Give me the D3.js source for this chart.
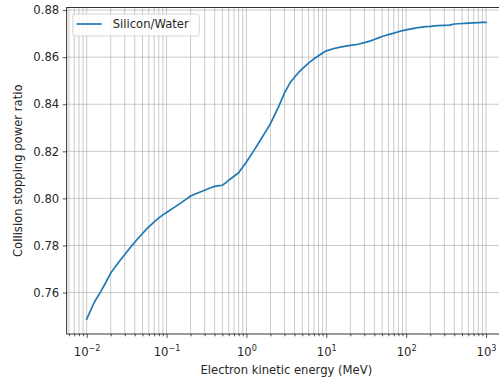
<!DOCTYPE html>
<html>
<head>
<meta charset="utf-8">
<script src="https://cdn.jsdelivr.net/npm/d3@7"></script>
<style>
  body { margin: 0; background: #fff; }
  text { font-family: "DejaVu Sans", sans-serif; }
</style>
</head>
<body>
<div class="canvas"></div>
<script>
// podaci (ocitani sa slike)
const energies = [0.01, 0.0125, 0.015, 0.0175, 0.02, 0.025, 0.03, 0.035, 0.04, 0.045,
	0.05, 0.055, 0.06, 0.07, 0.08, 0.09, 0.1, 0.125, 0.15, 0.175,
	0.2, 0.25, 0.3, 0.35, 0.4, 0.45, 0.5, 0.55, 0.6, 0.7,
	0.8, 0.9, 1, 1.25, 1.5, 1.75, 2, 2.5, 3, 3.5,
	4, 4.5, 5, 5.5, 6, 7, 8, 9, 10, 12.5,
	15, 17.5, 20, 25, 30, 35, 40, 45, 50, 55,
	60, 70, 80, 90, 100, 125, 150, 175, 200, 250,
	300, 350, 400, 450, 500, 550, 600, 700, 800, 900, 1000];
const ratios = [0.7487, 0.7560, 0.7604, 0.7645, 0.7683, 0.7728, 0.7762, 0.7790, 0.7814, 0.7834,
	0.7851, 0.7866, 0.7879, 0.7900, 0.7917, 0.7930, 0.7940, 0.7962, 0.7980, 0.7996,
	0.8010, 0.8024, 0.8035, 0.8044, 0.8051, 0.8054, 0.8056, 0.8066, 0.8077, 0.8094,
	0.8109, 0.8133, 0.8155, 0.8205, 0.8248, 0.8285, 0.8318, 0.8386, 0.8448, 0.8490,
	0.8515, 0.8535, 0.8550, 0.8563, 0.8575, 0.8593, 0.8606, 0.8618, 0.8627, 0.8637,
	0.8643, 0.8647, 0.8650, 0.8655, 0.8662, 0.8668, 0.8675, 0.8682, 0.8688, 0.8692,
	0.8696, 0.8702, 0.8708, 0.8713, 0.8716, 0.8722, 0.8727, 0.8730, 0.8731, 0.8734,
	0.8735, 0.8736, 0.8741, 0.8742, 0.8743, 0.8744, 0.8745, 0.8746, 0.8747, 0.8748, 0.8748];
const seriesName = 'Silicon/Water';
const yTicks = [0.76, 0.78, 0.80, 0.82, 0.84, 0.86, 0.88];
const xMajor = [1e-2, 1e-1, 1e0, 1e1, 1e2, 1e3];
const xExp = ['\u22122', '\u22121', '0', '1', '2', '3'];

const data = energies.map((e, i) => ({ e: e, r: ratios[i] }));

// svg
const svg = d3
	.select('.canvas')
	.append('svg')
	.attr('width', 499)
	.attr('height', 381);

const margin = { top: 7.5, left: 66.7, right: 506, bottom: 334 };
const fontSize = 11.6;

// skale
const logMin = Math.log10(d3.min(energies));
const logMax = Math.log10(d3.max(energies));
const logPad = (logMax - logMin) * 0.05;
const x = d3
	.scaleLog()
	.domain([Math.pow(10, logMin - logPad), Math.pow(10, logMax + logPad)])
	.range([margin.left, margin.right]);

const yExt = d3.extent(ratios);
const yPad = (yExt[1] - yExt[0]) * 0.05;
const y = d3
	.scaleLinear()
	.domain([yExt[0] - yPad, yExt[1] + yPad])
	.range([margin.bottom, margin.top]);

// minor tickovi
const xMinor = [];
for (let k = -3; k <= 3; k++) {
	for (let m = 2; m <= 9; m++) {
		const v = m * Math.pow(10, k);
		if (v >= x.domain()[0] && v <= x.domain()[1]) xMinor.push(v);
	}
}

// grid
const grid = svg.append('g').attr('stroke', '#b0b0b0').attr('stroke-width', 0.67);
grid.selectAll('.gx')
	.data(xMajor.concat(xMinor))
	.enter()
	.append('line')
	.attr('x1', d => x(d)).attr('x2', d => x(d))
	.attr('y1', margin.top).attr('y2', margin.bottom);
grid.selectAll('.gy')
	.data(yTicks)
	.enter()
	.append('line')
	.attr('x1', margin.left).attr('x2', margin.right)
	.attr('y1', d => y(d)).attr('y2', d => y(d));

// linija
svg.append('clipPath').attr('id', 'clip')
	.append('rect')
	.attr('x', margin.left).attr('y', margin.top)
	.attr('width', margin.right - margin.left)
	.attr('height', margin.bottom - margin.top);

const line = d3.line().x(d => x(d.e)).y(d => y(d.r));
svg.append('path')
	.datum(data)
	.attr('clip-path', 'url(#clip)')
	.attr('d', line)
	.attr('fill', 'none')
	.attr('stroke', '#1f77b4')
	.attr('stroke-width', 1.7)
	.attr('stroke-linejoin', 'round')
	.attr('stroke-linecap', 'square');

// osi
const xMinorAxis = d3.axisBottom(x).tickValues(xMinor).tickSize(2.3).tickFormat('');
const xAxis = d3.axisBottom(x).tickValues(xMajor).tickSize(4).tickFormat('');
const yAxis = d3.axisLeft(y).tickValues(yTicks).tickSize(4).tickPadding(3.5)
	.tickFormat(d3.format('.2f'));

const styleAxis = g => {
	g.select('.domain').remove();
	g.selectAll('line').attr('stroke', '#000').attr('stroke-width', 0.67);
	g.selectAll('text').attr('font-size', fontSize).attr('fill', '#262626')
		.attr('font-family', '"DejaVu Sans", sans-serif');
};

svg.append('g').attr('transform', `translate(0, ${margin.bottom})`).call(xMinorAxis).call(styleAxis);
const xAxisGroup = svg.append('g').attr('transform', `translate(0, ${margin.bottom})`).call(xAxis).call(styleAxis);
svg.append('g').attr('transform', `translate(${margin.left}, 0)`).call(yAxis).call(styleAxis);

// oznake 10^n
const lbl = xAxisGroup.selectAll('.tick')
	.append('text')
	.attr('y', 22)
	.attr('text-anchor', 'middle')
	.attr('font-size', fontSize)
	.attr('fill', '#262626');
lbl.append('tspan').text('10');
lbl.append('tspan')
	.attr('dy', -5)
	.attr('font-size', fontSize * 0.7)
	.text((d, i) => xExp[i]);

// spineovi
const spines = svg.append('g').attr('stroke', '#000').attr('stroke-width', 0.8).attr('fill', 'none');
spines.append('rect')
	.attr('x', margin.left).attr('y', margin.top)
	.attr('width', margin.right - margin.left)
	.attr('height', margin.bottom - margin.top);

// naslovi osi
svg.append('text')
	.attr('x', (margin.left + margin.right) / 2)
	.attr('y', 374)
	.attr('text-anchor', 'middle')
	.attr('font-size', fontSize)
	.attr('fill', '#262626')
	.text('Electron kinetic energy (MeV)');

svg.append('text')
	.attr('transform', `translate(22, ${(margin.top + margin.bottom) / 2}) rotate(-90)`)
	.attr('text-anchor', 'middle')
	.attr('font-size', fontSize)
	.attr('fill', '#262626')
	.text('Collision stopping power ratio');

// legenda
const legend = svg.append('g').attr('transform', 'translate(72.7, 14)');
legend.append('rect')
	.attr('width', 126.5).attr('height', 22)
	.attr('rx', 2.5)
	.attr('fill', '#fff').attr('fill-opacity', 0.8)
	.attr('stroke', '#cccccc').attr('stroke-width', 0.8);
legend.append('line')
	.attr('x1', 4).attr('x2', 29).attr('y1', 10).attr('y2', 10)
	.attr('stroke', '#1f77b4').attr('stroke-width', 1.7);
legend.append('text')
	.attr('x', 40).attr('y', 14.3)
	.attr('font-size', fontSize)
	.attr('fill', '#262626')
	.text(seriesName);
</script>
</body>
</html>
